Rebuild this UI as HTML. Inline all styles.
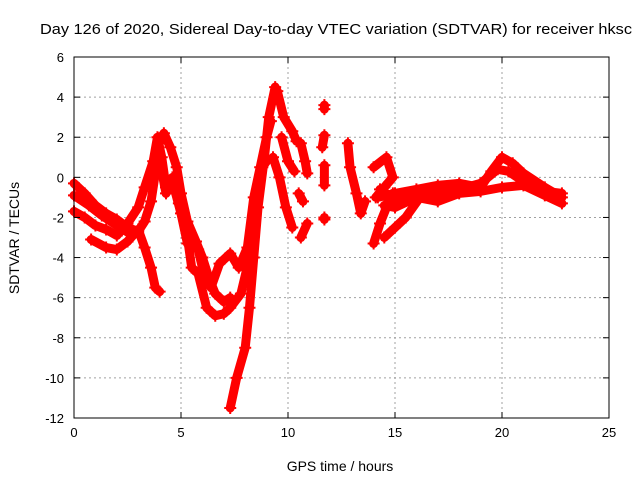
<!DOCTYPE html>
<html><head><meta charset="utf-8"><style>
body{margin:0;background:#fff}
svg text{font-family:"Liberation Sans",sans-serif;fill:#000}
</style></head><body>
<svg id="c" width="640" height="480" viewBox="0 0 640 480">
<rect width="640" height="480" fill="#fff"/>
<text x="40" y="34" font-size="15" textLength="592" lengthAdjust="spacingAndGlyphs">Day 126 of 2020, Sidereal Day-to-day VTEC variation (SDTVAR) for receiver hksc</text>
<g id="grid"></g>
<g id="marks"></g>
<rect x="74" y="57" width="535" height="361" fill="none" stroke="#000" stroke-width="1"/>
<g id="ticks"></g>
<text x="340" y="471" font-size="14" text-anchor="middle">GPS time / hours</text>
<text transform="translate(19,238) rotate(-90)" font-size="14" text-anchor="middle">SDTVAR / TECUs</text>
</svg>
<script>
const xTicks=[0,5,10,15,20,25];
const yTicks=[6,4,2,0,-2,-4,-6,-8,-10,-12];
const trace1=[[0,-0.3],[0.5,-0.8],[1,-1.4],[1.5,-1.8],[2,-2.1],[2.5,-2.5],[3,-2.7],[3.3,-2.2],[3.6,-1.2],[3.8,0.2],[4,1.8],[4.2,2.2],[4.5,1.5],[4.8,0.5],[5,-0.8],[5.3,-2.2],[5.7,-3.2],[6,-4],[6.3,-5],[6.6,-5.8],[7,-6.2],[7.3,-6]];
const trace2=[[0,-1.7],[0.5,-2],[1,-2.4],[1.5,-2.6],[2,-2.9],[2.5,-2.3],[3,-1.5],[3.3,-0.5],[3.7,0.8],[3.9,1.2],[4.1,0.3],[4.3,-0.8],[4.6,-0.2],[5,-1.8],[5.3,-3],[5.5,-4.5],[5.8,-4.8],[6.2,-6.5],[6.6,-6.9],[7,-6.8],[7.3,-6.5],[7.8,-5.8],[8.2,-4],[8.5,-1.5],[8.8,0.5],[9,0.8]];
const trace3=[[0.8,-3.1],[1.5,-3.5],[2,-3.6],[2.5,-3.2],[3,-2.6],[3.3,-3.5],[3.6,-4.5],[3.8,-5.5],[4,-5.7]];
const trace4=[[3.6,0.2],[3.9,2],[4.1,1],[4.3,-0.5],[4.6,0],[4.9,-1.3],[5.3,-3.3],[5.8,-3.6],[6,-4.5],[6.4,-5.5],[6.8,-4.3],[7.3,-3.8],[7.7,-4.5],[8.1,-3.5],[8.4,-1],[8.7,0.5],[9,2],[9.2,2.8]];
const trace5=[[7.3,-11.5],[7.6,-10],[8,-8.5],[8.2,-6.5],[8.4,-4],[8.6,-1.5],[8.9,1],[9.1,3],[9.4,4.5],[9.5,4.3],[9.8,3],[10.2,2.3],[10.4,1.8]];
const trace6=[[9.3,1],[9.6,0],[9.9,-1.5],[10.2,-2.5]];
const trace7=[[9.7,2],[10,0.8],[10.3,0.3]];
const trace8=[[10.6,1.7],[10.8,0.8],[10.9,0.2]];
const trace9=[[10.6,-3],[10.9,-2.3]];
const trace10=[[10.5,-0.8],[10.7,-1.2]];
const trace11=[[11.7,3.6],[11.7,3.4]];
const trace12=[[11.7,2.1],[11.6,1.5]];
const trace13=[[11.7,0.6],[11.7,-0.4]];
const trace14=[[11.7,-2],[11.7,-2.1]];
const trace15=[[12.8,1.7],[12.9,0.5],[13.2,-0.8],[13.4,-1.8],[13.6,-1.2]];
const trace16=[[14,-3.3],[14.3,-2.3],[14.6,-1.5],[14.9,-0.8]];
const trace17=[[14.5,-3],[15,-2.5],[15.5,-2],[16.3,-0.8]];
const trace18=[[14,0.5],[14.6,1],[14.9,0],[14.5,-0.5],[14.1,-1]];
const trace19=[[14.2,-1],[15,-0.8],[16,-0.6],[17,-0.4],[18,-0.3],[19,-0.5],[19.5,0.3],[20,1],[20.5,0.7],[21,0.2],[22,-0.5],[22.8,-1]];
const trace20=[[14.5,-1.4],[15,-1.5],[16,-1],[17,-1.2],[18,-0.8],[19,-0.7],[20,-0.5],[21,-0.4],[22,-0.9],[22.8,-1.3]];
const trace21=[[14.3,-0.6],[15,-1.1],[16,-0.9],[17,-0.8],[18,-0.6],[19,-0.3],[19.8,0.4],[20.3,0.3],[21,-0.2],[22,-0.7],[22.8,-0.8]];
const trace22=[[0,-0.9],[0.7,-1.4],[1.3,-1.9],[2,-2.4],[2.6,-2.8]];
const traces=[trace1,trace2,trace3,trace4,trace5,trace6,trace7,trace8,trace9,trace10,trace11,trace12,trace13,trace14,trace15,trace16,trace17,trace18,trace19,trace20,trace21,trace22];
const NS="http://www.w3.org/2000/svg";
const X0=74,X1=609,Y0=57,Y1=418;
const sx=v=>X0+(v-0)/(25-0)*(X1-X0);
const sy=v=>Y1-(v+12)/(6+12)*(Y1-Y0);
const grid=document.getElementById('grid'),ticks=document.getElementById('ticks'),marks=document.getElementById('marks');
function mk(t,a,p){const e=document.createElementNS(NS,t);for(const k in a)e.setAttribute(k,a[k]);p.appendChild(e);return e;}
xTicks.forEach(v=>{const x=sx(v);
 if(v>0&&v<25){const g=mk('line',{x1:x,x2:x,y1:Y0,y2:Y1,stroke:'#a0a0a0','stroke-dasharray':'2,3'},grid);
 
 }
 mk('line',{x1:x,x2:x,y1:Y1,y2:Y1-6,stroke:'#000'},ticks);
 mk('line',{x1:x,x2:x,y1:Y0,y2:Y0+6,stroke:'#000'},ticks);
 const t=mk('text',{x:x,y:Y1+19,'font-size':13,'text-anchor':'middle'},ticks);t.textContent=v;
 
 });
yTicks.forEach(v=>{const y=sy(v);
 if(v>-12&&v<6){const g=mk('line',{x1:X0,x2:X1,y1:y,y2:y,stroke:'#a0a0a0','stroke-dasharray':'2,3'},grid);
 
 }
 mk('line',{x1:X0,x2:X0+6,y1:y,y2:y,stroke:'#000'},ticks);
 mk('line',{x1:X1,x2:X1-6,y1:y,y2:y,stroke:'#000'},ticks);
 const t=mk('text',{x:X0-10,y:y+5,'font-size':13,'text-anchor':'end'},ticks);t.textContent=v;
 
 });
traces.forEach((tr,i)=>{
 const p=mk('polyline',{points:tr.map(d=>sx(d[0])+','+sy(d[1])).join(' '),fill:'none',stroke:'#ff0000','stroke-width':9,'stroke-linejoin':'round','stroke-linecap':'round'},marks);
 
 
 tr.forEach(d=>{const x=sx(d[0]),y=sy(d[1]);
  const m=mk('path',{d:`M${x-6},${y}H${x+6}M${x},${y-6}V${y+6}`,stroke:'#ff0000','stroke-width':2},marks);
  
  });
});
</script>
</body></html>
